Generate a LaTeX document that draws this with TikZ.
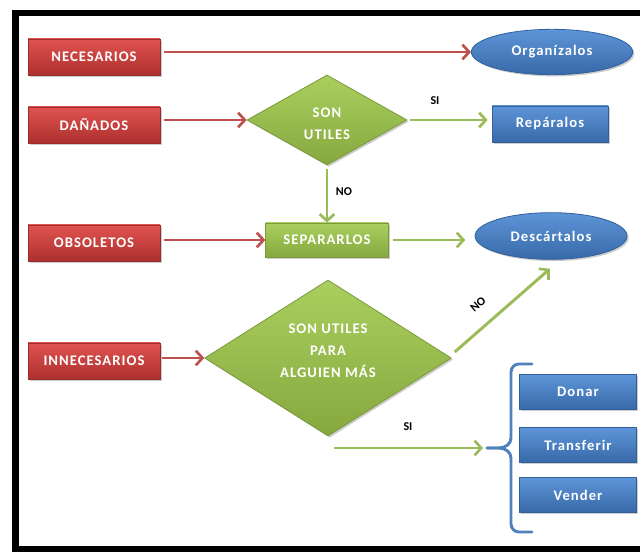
\documentclass[tikz,border=0pt]{standalone}
\usepackage{fontspec}
\setmainfont{Carlito}
\newfontfamily\boxfont{Carlito}[LetterSpace=7]
\usetikzlibrary{shapes.geometric,arrows.meta,shadows,calc}

\definecolor{redtop}{HTML}{E05350}
\definecolor{redbot}{HTML}{AC302E}
\definecolor{redline}{HTML}{9A2C2A}
\definecolor{arrred}{HTML}{C0504D}
\definecolor{greentop}{HTML}{AACF5E}
\definecolor{greenbot}{HTML}{86A83F}
\definecolor{greenline}{HTML}{7A9A3A}
\definecolor{arrgreen}{HTML}{9BBB59}
\definecolor{bluetop}{HTML}{5D95D8}
\definecolor{bluebot}{HTML}{3869A8}
\definecolor{blueline}{HTML}{31609C}
\definecolor{bracecol}{HTML}{4F81BD}

\tikzset{
  lbl/.style={font=\boxfont\bfseries\fontsize{11}{16.5}\selectfont, text=white},
  tag/.style={font=\bfseries\fontsize{9}{11}\selectfont, text=black, inner sep=1pt},
  shade/.style={drop shadow={opacity=0.4, shadow xshift=1.3pt, shadow yshift=-1.3pt}},
  redbox/.style={rectangle, minimum width=99pt, minimum height=27pt, inner sep=2pt,
    top color=redtop, bottom color=redbot, draw=redline, line width=0.6pt, lbl, shade},
  greenbox/.style={rectangle, minimum width=92pt, minimum height=25.5pt, inner sep=2pt,
    top color=greentop, bottom color=greenbot, draw=greenline, line width=0.6pt, lbl, shade},
  greendia/.style={diamond, inner sep=0pt,
    top color=greentop, bottom color=greenbot, draw=greenline, line width=0.6pt, shade},
  bluebox/.style={rectangle, minimum width=88pt, minimum height=26pt, inner sep=2pt,
    top color=bluetop, bottom color=bluebot, draw=blueline, line width=0.6pt, lbl, shade},
  blueoval/.style={ellipse, inner sep=0pt,
    top color=bluetop, bottom color=bluebot, draw=blueline, line width=0.6pt, lbl, shade},
  redarrow/.style={draw=arrred, line width=2.2pt, -{Straight Barb[length=5pt,width=11pt,line width=2pt]}},
  greenarrow/.style={draw=arrgreen, line width=2.2pt, -{Straight Barb[length=5pt,width=11pt,line width=2pt]}},
  bracestyle/.style={draw=bracecol, line width=2.2pt, line cap=round}
}

\begin{document}
\begin{tikzpicture}[x=0.75pt, y=-0.75pt]
  \useasboundingbox (0,0) rectangle (640,552);
  \fill[white] (0,0) rectangle (640,552);

  % outer frame
  \draw[line width=5pt] (15.5,13) rectangle (660,549);

  % source categories
  \node[redbox] (nec) at (94,57)  {NECESARIOS};
  \node[redbox] (dan) at (94,125) {DAÑADOS};
  \node[redbox] (obs) at (94,243) {OBSOLETOS};
  \node[redbox] (inn) at (94,361) {INNECESARIOS};

  % decisions and actions
  \node[blueoval, minimum width=121pt, minimum height=34pt] (org) at (552,52) {Organízalos};
  \node[greendia, minimum width=120pt, minimum height=67.5pt] (d1) at (327,120) {};
  \node[lbl, align=center] (d1txt) at ($(d1)+(0,4)$) {SON\\UTILES};
  \node[bluebox, minimum width=87pt, minimum height=27pt] (rep) at (550,124) {Repáralos};
  \node[greenbox] (sep) at (327,240) {SEPARARLOS};
  \node[blueoval, minimum width=114pt, minimum height=35pt] (desc) at (551,236) {Descártalos};
  \node[greendia, minimum width=185pt, minimum height=117pt] (d2) at (328,358) {};
  \node[lbl, align=center] (d2txt) at ($(d2)+(0,-7)$) {SON UTILES\\PARA\\ALGUIEN MÁS};
  \node[bluebox] (don) at (578,392) {Donar};
  \node[bluebox] (tra) at (578,445) {Transferir};
  \node[bluebox] (ven) at (578,495) {Vender};

  % red connectors
  \draw[redarrow, shorten <=3pt] (nec.east |- org.west) -- (org.west);
  \draw[redarrow, shorten <=3pt] (dan.east |- d1.west) -- (d1.west);
  \draw[redarrow, shorten <=3pt] (obs.east |- sep.west) -- (sep.west);
  \draw[redarrow, shorten <=1pt] (inn.east |- d2.west) -- (d2.west);

  % green connectors
  \draw[greenarrow, shorten <=2pt, shorten >=3pt] (d1.east) -- (d1.east -| rep.west);
  \draw[greenarrow, shorten <=3pt] (d1.south) -- (sep.north);
  \draw[greenarrow, shorten <=3pt, shorten >=7pt] (sep.east) -- (sep.east -| desc.west);
  \coordinate (nostart) at ($(d2.east)+(3,-6)$);
  \coordinate (noend) at ($(desc.south)+(-1,9)$);
  \draw[greenarrow] (nostart) -- (noend);
  \coordinate (sistart) at ($(d2.south)+(7,12)$);
  \coordinate (tip) at (487,448);
  \draw[greenarrow, shorten >=3pt] (sistart) -- (tip -| sistart) -- (tip);

  % brace grouping the options
  \draw[bracestyle] (532,364) -- (519,364) to[out=180,in=90] (511,372) -- (511,438)
    to[out=-90,in=0] (499,448) -- (tip);
  \draw[bracestyle] (tip) -- (499,448) to[out=0,in=90] (511,458) -- (511,524)
    to[out=-90,in=180] (519,532) -- (532,532);

  % branch labels
  \node[tag] (si1) at (435,101) {SI};
  \node[tag] (no1) at (344,192) {NO};
  \node[tag, rotate=40] (no2) at (478,304) {NO};
  \node[tag] (si2) at (408,427) {SI};
\end{tikzpicture}
\end{document}
